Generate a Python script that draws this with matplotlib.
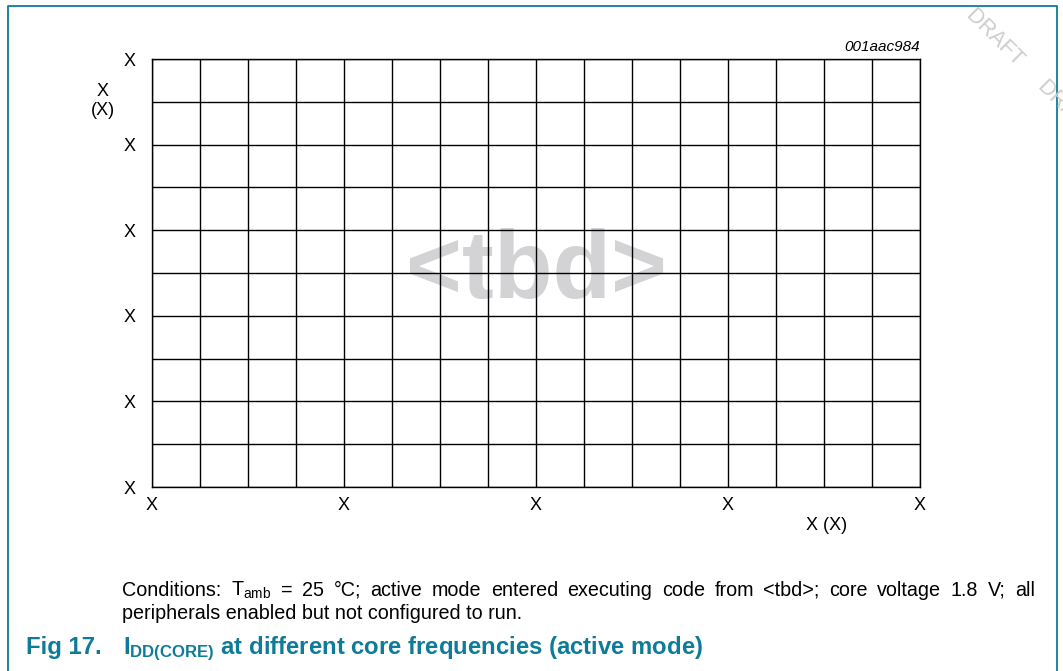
import numpy as np
import matplotlib
matplotlib.use('Agg')
import matplotlib.pyplot as plt

plt.rcParams['font.family'] = ['Liberation Sans', 'DejaVu Sans']
plt.rcParams['mathtext.fontset'] = 'custom'
plt.rcParams['mathtext.rm'] = 'Liberation Sans'
plt.rcParams['mathtext.it'] = 'Liberation Sans:italic'
plt.rcParams['mathtext.bf'] = 'Liberation Sans:bold'

# axis data (placeholder chart, values are all "X")
x_grid = np.arange(0, 17)          # 16 columns
y_grid = np.arange(0, 11)          # 10 rows
x_major = [0, 4, 8, 12, 16]
y_major = [0, 2, 4, 6, 8, 10]
x_labels = ['X', 'X', 'X', 'X', 'X']
y_labels = ['X', 'X', 'X', 'X', 'X', 'X']
x_title = 'X (X)'
y_title = 'X\n(X)'
fig_code = '001aac984'
placeholder = '<tbd>'
cond_line1 = r'Conditions: T$_{\mathrm{amb}}$ = 25 °C; active mode entered executing code from <tbd>; core voltage 1.8 V; all'
cond_line2 = 'peripherals enabled but not configured to run.'
fig_num = 'Fig 17.'
fig_title = r'I$_{\mathbf{DD(CORE)}}$ at different core frequencies (active mode)'

teal = '#0E7C98'
W, H = 1063, 671

fig = plt.figure(figsize=(10.63, 6.71), dpi=100)

# frame around figure
border = plt.Line2D([8/W, 8/W, 1057/W, 1057/W], [0, 1-6/H, 1-6/H, 0],
                    transform=fig.transFigure, color=teal, lw=1.3)
fig.add_artist(border)

# watermark
fig.text(898/W, 1-(-60)/H, 'DRAFT     DRAFT     DRAFT     DRAFT', rotation=-45, rotation_mode='anchor',
         color='#cdcdcd', fontsize=15.5, ha='left', va='center')

ax = fig.add_axes([152/W, 1-487/H, 768/W, 428/H])
ax.set_xlim(x_grid[0], x_grid[-1])
ax.set_ylim(y_grid[0], y_grid[-1])
ax.set_xticks(x_grid, minor=True)
ax.set_yticks(y_grid, minor=True)
ax.set_xticks(x_major)
ax.set_yticks(y_major)
ax.set_xticklabels(x_labels, fontsize=13)
ax.set_yticklabels(y_labels, fontsize=13)
ax.tick_params(which='both', length=0)
ax.tick_params(axis='x', pad=7)
ax.tick_params(axis='y', pad=12)
ax.grid(which='both', color='black', lw=1.0)
ax.set_axisbelow(False)
for s in ax.spines.values():
    s.set_linewidth(1.0)

ax.text(0.5, 0.5, placeholder, transform=ax.transAxes, ha='center', va='center',
        fontsize=69, fontweight='bold', color='#d3d3d5', zorder=0)

fig.text(827/W, 1-526/H, x_title, ha='center', va='center', fontsize=13)
fig.text(103/W, 1-101/H, y_title, ha='center', va='center', fontsize=13, linespacing=1.15)
fig.text(920/W, 1-47/H, fig_code, ha='right', va='center', fontsize=11, style='italic')

# first caption line is justified between x=122 and x=1035
renderer = fig.canvas.get_renderer()
words = cond_line1.split(' ')
word_texts = [fig.text(0, 1-596/H, w, ha='left', va='baseline', fontsize=14.2) for w in words]
widths = [t.get_window_extent(renderer).width for t in word_texts]
gap = (1035 - 122 - sum(widths)) / (len(words) - 1)
xpos = 122
for t, w in zip(word_texts, widths):
    t.set_x(xpos / W)
    xpos += w + gap

fig.text(122/W, 1-619/H, cond_line2, ha='left', va='baseline', fontsize=14.2)

fig.text(26/W, 1-654/H, fig_num, ha='left', va='baseline', fontsize=17.2,
         fontweight='bold', color=teal)
fig.text(123/W, 1-654/H, fig_title, ha='left', va='baseline', fontsize=17.2,
         fontweight='bold', color=teal)

fig.savefig('out.png', dpi=100)
